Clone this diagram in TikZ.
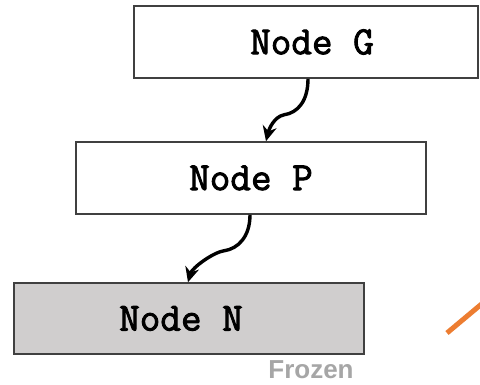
\documentclass[tikz,border=0pt]{standalone}
\usepackage{fontspec}
\newfontfamily\labelfont{Liberation Sans}
\newfontfamily\boxfont{Latin Modern Mono}[FakeBold=2.2]
\usetikzlibrary{arrows.meta}
\definecolor{frozengray}{HTML}{D0CECE}
\definecolor{edgegray}{HTML}{404040}
\definecolor{labelgray}{HTML}{A6A6A6}
\definecolor{accent}{HTML}{ED7D31}
\begin{document}
\begin{tikzpicture}[x=1pt,y=1pt,
  nodebox/.style={draw=edgegray, line width=1.6pt, minimum width=#1, minimum height=72pt,
    inner sep=0pt, font=\boxfont\bfseries\fontsize{40}{44}\selectfont},
  link/.style={line width=3.4pt, -{Stealth[length=15pt,width=14pt]}}
]
\useasboundingbox (0,0) rectangle (480,384);
\fill[white] (0,0) rectangle (480,384);
\node[nodebox=344pt, fill=white] (G) at (306,342) {\hspace*{12pt}Node G};
\node[nodebox=350pt, fill=white] (P) at (251,206) {Node P};
\node[nodebox=350pt, minimum height=71pt, fill=frozengray] (N) at (189,65.5) {Node N\hspace*{16pt}};
\node[font=\labelfont\bfseries\fontsize{26}{28}\selectfont, text=labelgray, inner sep=1pt] (F) at (311,14) {Frozen};
\draw[link] ([xshift=2pt]G.south) .. controls +(0,-22) and +(14,2) .. ++(-24,-36)
  .. controls +(-10,-2) and +(3,12) .. ([xshift=15pt]P.north);
\draw[link] ([xshift=-1pt]P.south) .. controls +(0,-22) and +(14,2) .. ++(-26,-36)
  .. controls +(-12,-2) and +(4,14) .. ([xshift=-1pt]N.north);
\coordinate (o1) at (447,51);
\coordinate (o2) at (484,82);
\draw[accent, line width=5pt] (o1) -- (o2);
\end{tikzpicture}
\end{document}
